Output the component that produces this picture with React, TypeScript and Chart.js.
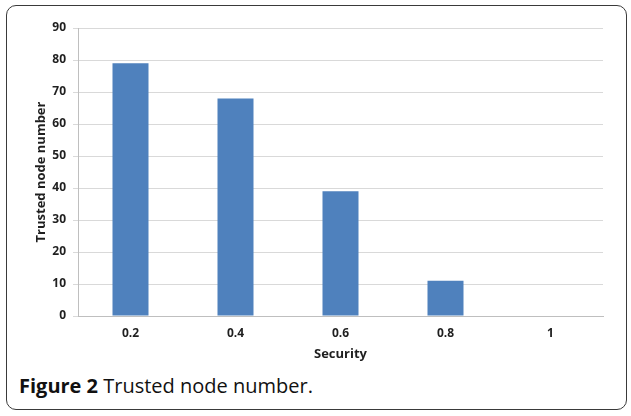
import React, { useEffect, useRef } from "react";
import { Chart, registerables } from "chart.js";

Chart.register(...registerables);

// Security level on the x axis, trusted node count on the y axis
const securityLevels: string[] = ["0.2", "0.4", "0.6", "0.8", "1"];
const trustedNodes: number[] = [79, 68, 39, 11, 0];
const yTicks: number[] = [0, 10, 20, 30, 40, 50, 60, 70, 80, 90];

const FONT = "'Open Sans', 'DejaVu Sans', sans-serif";
const TEXT = "#1f1f1f";

function TrustedNodeChart() {
  const canvasRef = useRef<HTMLCanvasElement | null>(null);

  useEffect(() => {
    const canvas = canvasRef.current;
    if (!canvas) return;
    const chart = new Chart(canvas, {
      type: "bar",
      data: {
        labels: securityLevels,
        datasets: [
          {
            label: "Trusted node number",
            data: trustedNodes,
            backgroundColor: "#4f81bd",
            borderWidth: 0,
            barPercentage: 0.343,
            categoryPercentage: 1,
          },
        ],
      },
      options: {
        animation: false,
        responsive: false,
        maintainAspectRatio: false,
        layout: { padding: { left: 33, right: 28, top: 28, bottom: 8 } },
        plugins: {
          legend: { display: false },
          tooltip: { enabled: false },
        },
        scales: {
          x: {
            grid: { display: false, drawTicks: false },
            border: { display: true, color: "#bfbfbf", width: 1 },
            ticks: {
              color: TEXT,
              padding: 10,
              font: { family: FONT, size: 12, weight: "bold" },
            },
            title: {
              display: true,
              text: "Security",
              color: TEXT,
              padding: 0,
              font: { family: FONT, size: 13, weight: "bold" },
            },
            afterFit: (scale: any) => {
              scale.height = 46;
            },
          },
          y: {
            min: yTicks[0],
            max: yTicks[yTicks.length - 1],
            grid: {
              color: "#d9d9d9",
              tickColor: "#d9d9d9",
              tickLength: 5,
              lineWidth: 1,
            },
            border: { display: true, color: "#bfbfbf", width: 1 },
            ticks: {
              stepSize: 10,
              color: TEXT,
              padding: 7,
              font: { family: FONT, size: 12, weight: "bold" },
            },
            title: {
              display: true,
              text: "Trusted node number",
              color: TEXT,
              padding: 0,
              font: { family: FONT, size: 13, weight: "bold" },
            },
            afterFit: (scale: any) => {
              scale.width = 45;
            },
          },
        },
      },
    });
    return () => chart.destroy();
  }, []);

  return (
    <canvas
      ref={canvasRef}
      width={631}
      height={370}
      style={{ position: "absolute", left: 0, top: 0, width: 631, height: 370 }}
    />
  );
}

export default function App() {
  return (
    <div
      style={{
        position: "fixed",
        left: 0,
        top: 0,
        width: 631,
        height: 416,
        background: "#ffffff",
        overflow: "hidden",
      }}
    >
      <div
        style={{
          position: "absolute",
          left: 6,
          top: 5,
          width: 621,
          height: 405,
          border: "1.5px solid #3a3a3a",
          borderRadius: 10,
          boxSizing: "border-box",
        }}
      />
      <TrustedNodeChart />
      <div
        style={{
          position: "absolute",
          left: 19,
          top: 374,
          fontFamily: FONT,
          fontSize: 20,
          lineHeight: "24px",
          color: "#111111",
          whiteSpace: "nowrap",
        }}
      >
        <span style={{ fontWeight: "bold" }}>Figure 2</span> Trusted node number.
      </div>
    </div>
  );
}
